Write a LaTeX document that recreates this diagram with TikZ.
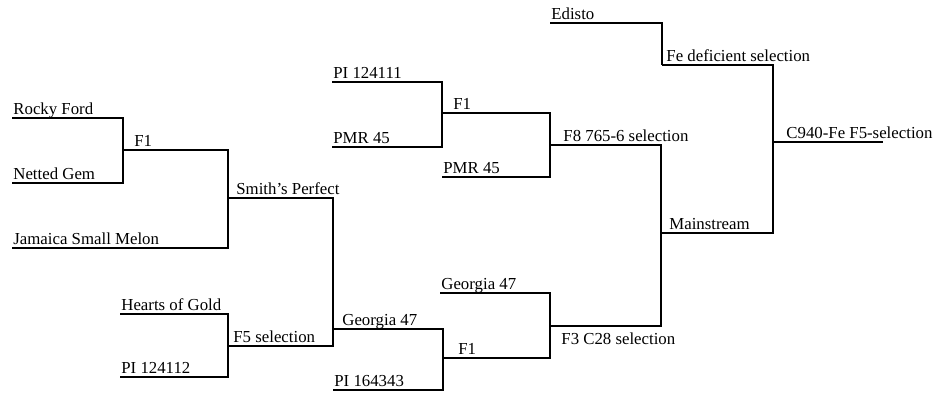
\documentclass[tikz,border=0pt]{standalone}
\usepackage{fontspec}
\setmainfont{Liberation Serif}
\begin{document}
\begin{tikzpicture}[x=0.5pt,y=-0.5pt,line width=1.4pt,
  font=\fontsize{8.4}{10}\selectfont,
  lbl/.style={anchor=base west,inner sep=0pt,yshift=1.7pt},
  sel/.style={lbl,xshift=#1}, sel/.default=4pt,
  sub/.style={anchor=base west,inner sep=0pt,xshift=5pt,yshift=-9pt}]
\useasboundingbox (0,0) rectangle (941,398);

% 系統の起点
\coordinate (rf) at (12,118);
\coordinate (ng) at (12,183);
\coordinate (f1a) at (123,150);
\coordinate (jsm) at (12,248);
\coordinate (smp) at (228,198);
\coordinate (hog) at (120,314);
\coordinate (pib) at (120,377);
\coordinate (f5) at (228,346);
\coordinate (ga) at (333,329);
\coordinate (pic) at (333,390);
\coordinate (f1b) at (443,358);
\coordinate (gb) at (440,293);
\coordinate (f3) at (550,326);
\coordinate (pia) at (332,82);
\coordinate (pma) at (332,147);
\coordinate (f1c) at (442,113);
\coordinate (pmb) at (442,177);
\coordinate (f8) at (550,145);
\coordinate (ms) at (661,233);
\coordinate (ed) at (550,23);
\coordinate (fe) at (662,65);
\coordinate (cf) at (773,142);
\coordinate (cfe) at (883,142);

% ラベル
\node[lbl] (rfl) at (rf) {Rocky Ford};
\node[lbl] (ngl) at (ng) {Netted Gem};
\node[sel=5pt] (f1al) at (f1a) {F1};
\node[lbl] (jsml) at (jsm) {Jamaica Small Melon};
\node[sel=3.5pt] (smpl) at (smp) {Smith's Perfect};
\node[lbl] (hogl) at (hog) {Hearts of Gold};
\node[lbl] (pibl) at (pib) {PI 124112};
\node[sel=2pt] (f5l) at (f5) {F5 selection};
\node[sel] (gal) at (ga) {Georgia 47};
\node[lbl] (picl) at (pic) {PI 164343};
\node[sel=7pt] (f1bl) at (f1b) {F1};
\node[lbl] (gbl) at (gb) {Georgia 47};
\node[sub] (f3l) at (f3) {F3 C28 selection};
\node[lbl] (pial) at (pia) {PI 124111};
\node[lbl] (pmal) at (pma) {PMR 45};
\node[sel=5pt] (f1cl) at (f1c) {F1};
\node[lbl] (pmbl) at (pmb) {PMR 45};
\node[sel=6pt] (f8l) at (f8) {F8 765-6 selection};
\node[sel=3.5pt] (msl) at (ms) {Mainstream};
\node[lbl] (edl) at (ed) {Edisto};
\node[sel=1.5pt] (fel) at (fe) {Fe deficient selection};
\node[sel=6pt] (cfl) at (cf) {C940-Fe F5-selection};

% 交配の線
\draw (rf) -| (f1a) |- (ng);
\draw (f1a) -| (smp) |- (jsm);
\draw (hog) -| (f5) |- (pib);
\draw (smp) -| (ga) |- (f5);
\draw (ga) -| (f1b) |- (pic);
\draw (gb) -| (f3) |- (f1b);
\draw (pia) -| (f1c) |- (pma);
\draw (f1c) -| (f8) |- (pmb);
\draw (f8) -| (ms) |- (f3);
\draw (ed) -| (fe);
\draw (fe) -| (cf) |- (ms);
\draw (cf) -- (cfe);

\end{tikzpicture}
\end{document}
